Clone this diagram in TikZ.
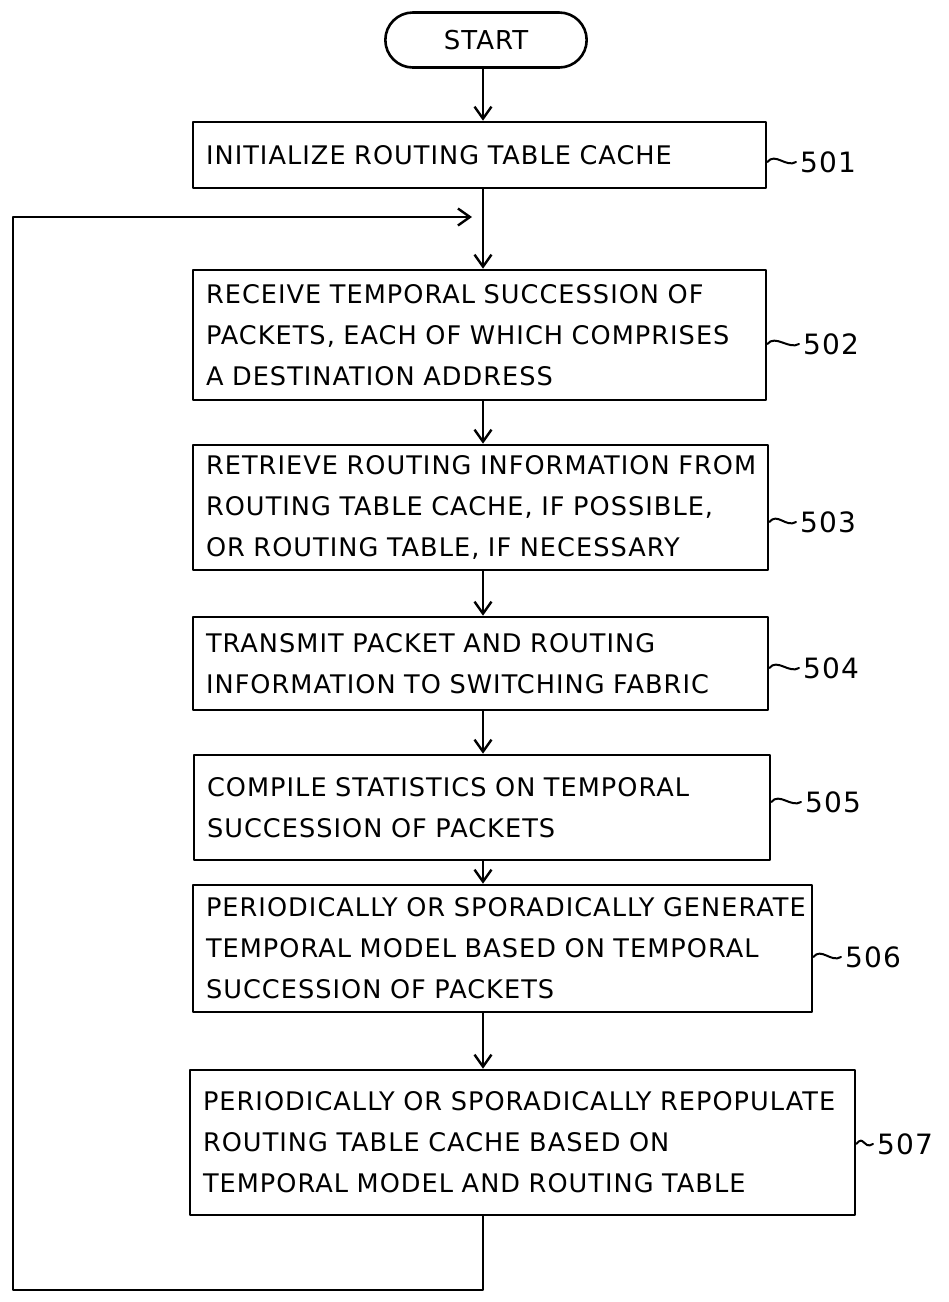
\documentclass[tikz,border=0pt]{standalone}
\usepackage{fontspec}
\setmainfont[WordSpace=2.6,LetterSpace=4]{DejaVu Sans}
\usetikzlibrary{arrows.meta,shapes.misc}
\newcommand{\oneline}[1]{\mbox{#1}}
\tikzset{
  ln/.style={line width=2.6pt, line cap=round, line join=round},
  arr/.style={ln, -{Straight Barb[length=12pt,width=17pt,line width=2.4pt]}},
  stepbox/.style={ln, draw, rectangle, align=left, inner xsep=13pt, inner ysep=0pt,
    font=\fontsize{25.6}{41}\selectfont},
  term/.style={ln, draw, rounded rectangle, minimum width=208pt, minimum height=55pt,
    font=\fontsize{26}{30}\selectfont},
  lbl/.style={anchor=west, inner sep=0pt, font=\fontsize{28}{32}\selectfont},
  leader/.style={line width=2pt, line cap=round}
}
\begin{document}
\begin{tikzpicture}[x=1pt,y=-1pt]
\useasboundingbox (0,0) rectangle (949,1302);
\coordinate (spine) at (483,0);

\node[term] (start) at (486,40) {START};

\node[stepbox, minimum width=573pt, minimum height=66pt, text width=547pt] (b501) at (479.5,155)
  {\oneline{INITIALIZE ROUTING TABLE CACHE}};
\node[stepbox, minimum width=573pt, minimum height=130pt, text width=547pt] (b502) at (479.5,335)
  {\oneline{RECEIVE TEMPORAL SUCCESSION OF}\\\oneline{PACKETS, EACH OF WHICH COMPRISES}\\\oneline{A DESTINATION ADDRESS}};
\node[stepbox, minimum width=575pt, minimum height=125pt, text width=549pt] (b503) at (480.5,507.5)
  {\oneline{RETRIEVE ROUTING INFORMATION FROM}\\\oneline{ROUTING TABLE CACHE, IF POSSIBLE,}\\\oneline{OR ROUTING TABLE, IF NECESSARY}};
\node[stepbox, minimum width=575pt, minimum height=93pt, text width=549pt] (b504) at (480.5,663.5)
  {\oneline{TRANSMIT PACKET AND ROUTING}\\\oneline{INFORMATION TO SWITCHING FABRIC}};
\node[stepbox, minimum width=576pt, minimum height=105pt, text width=550pt] (b505) at (482,807.5)
  {\oneline{COMPILE STATISTICS ON TEMPORAL}\\\oneline{SUCCESSION OF PACKETS}};
\node[stepbox, minimum width=619pt, minimum height=127pt, text width=593pt] (b506) at (502.5,948.5)
  {\oneline{PERIODICALLY OR SPORADICALLY GENERATE}\\\oneline{TEMPORAL MODEL BASED ON TEMPORAL}\\\oneline{SUCCESSION OF PACKETS}};
\node[stepbox, minimum width=665pt, minimum height=145pt, text width=639pt] (b507) at (522.5,1142.5)
  {\oneline{PERIODICALLY OR SPORADICALLY REPOPULATE}\\\oneline{ROUTING TABLE CACHE BASED ON}\\\oneline{TEMPORAL MODEL AND ROUTING TABLE}};

% reference numerals
\node[lbl] (l501) at (800,162) {501};
\node[lbl] (l502) at (803,344) {502};
\node[lbl] (l503) at (800,522) {503};
\node[lbl] (l504) at (803,668) {504};
\node[lbl] (l505) at (805,802) {505};
\node[lbl] (l506) at (845,957) {506};
\node[lbl] (l507) at (877,1144) {507};
\foreach \b/\l in {b501/l501,b502/l502,b503/l503,b504/l504,b505/l505,b506/l506,b507/l507}
  \draw[leader] (\b.east |- \l.west) .. controls +(8,-10) and +(-10,6) .. ([xshift=-4pt]\l.west);

% main flow
\draw[arr] (start.south -| spine) -- (b501.north -| spine);
\draw[arr] (b501.south -| spine) -- (b502.north -| spine);
\draw[arr] (b502.south -| spine) -- (b503.north -| spine);
\draw[arr] (b503.south -| spine) -- (b504.north -| spine);
\draw[arr] (b504.south -| spine) -- (b505.north -| spine);
\draw[arr] (b505.south -| spine) -- (b506.north -| spine);
\draw[arr] (b506.south -| spine) -- (b507.north -| spine);

% feedback loop
\coordinate (lb) at (13,1290);
\coordinate (loopin) at (472,217);
\draw[arr] (b507.south -| spine) -- (spine |- lb) -- (lb) |- (loopin);
\end{tikzpicture}
\end{document}
